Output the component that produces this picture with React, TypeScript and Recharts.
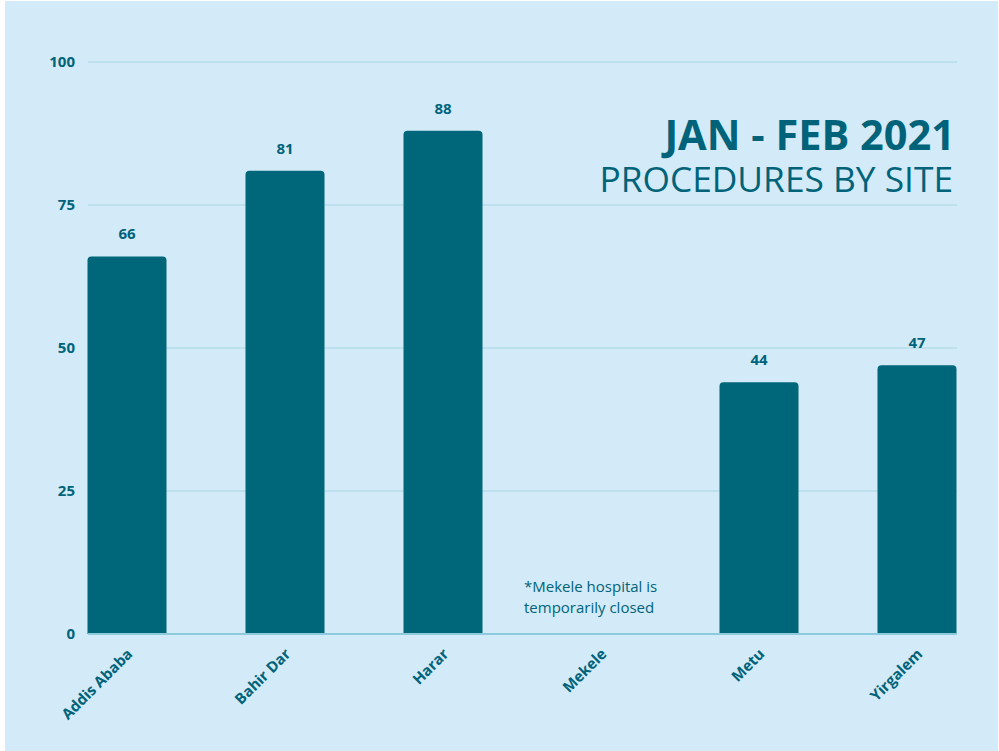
import React from 'react';
import { BarChart, Bar, XAxis, YAxis, CartesianGrid, LabelList } from 'recharts';

const SITES = ['Addis Ababa', 'Bahir Dar', 'Harar', 'Mekele', 'Metu', 'Yirgalem'];
const PROCEDURES: (number | null)[] = [66, 81, 88, null, 44, 47];
const Y_TICKS = [0, 25, 50, 75, 100];

const COLORS = {
    bg: '#d3eaf8',
    bar: '#00677a',
    text: '#00637a',
    grid: '#a8d6e6',
    axis: '#8ccbdc',
};

const FONT = '"Open Sans", sans-serif';

const data = SITES.map((site, i) => ({ site, value: PROCEDURES[i] }));

const SiteTick = (props: any) => {
    const { x, y, payload } = props;
    return (
        <text
            x={x + 7}
            y={y + 13}
            transform={`rotate(-45 ${x + 7} ${y + 13})`}
            textAnchor="end"
            fill={COLORS.text}
            fontFamily={FONT}
            fontWeight={700}
            fontSize={15}
        >
            {payload.value}
        </text>
    );
};

const App: React.FC = () => {
    return (
        <div style={{ position: 'absolute', left: 5, top: 1, width: 993, height: 750, background: COLORS.bg }}>
            <BarChart
                width={993}
                height={750}
                data={data}
                margin={{ top: 61, right: 41, left: 33, bottom: 0 }}
                barSize={79}
            >
                <CartesianGrid vertical={false} stroke={COLORS.grid} strokeWidth={1} />
                <XAxis
                    dataKey="site"
                    height={117}
                    padding={{ left: -40.5, right: -38.5 }}
                    interval={0}
                    tickLine={false}
                    axisLine={{ stroke: COLORS.axis, strokeWidth: 2 }}
                    tick={<SiteTick />}
                />
                <YAxis
                    width={50}
                    domain={[0, 100]}
                    ticks={Y_TICKS}
                    axisLine={false}
                    tickLine={false}
                    tickSize={0}
                    tickMargin={13}
                    tick={{ fill: COLORS.text, fontFamily: FONT, fontWeight: 700, fontSize: 15 }}
                />
                <Bar dataKey="value" fill={COLORS.bar} radius={[4, 4, 0, 0]} isAnimationActive={false}>
                    <LabelList
                        dataKey="value"
                        position="top"
                        offset={17}
                        fill={COLORS.text}
                        fontFamily={FONT}
                        fontWeight={700}
                        fontSize={15}
                    />
                </Bar>
            </BarChart>
            <svg width={993} height={750} style={{ position: 'absolute', left: 0, top: 0, pointerEvents: 'none' }}>
                <text x={950} y={149} textAnchor="end" fill={COLORS.text} fontFamily={FONT} fontWeight={700} fontSize={41.5}>
                    JAN - FEB 2021
                </text>
                <text x={948} y={191} textAnchor="end" fill={COLORS.text} fontFamily={FONT} fontWeight={400} fontSize={35.3}>
                    PROCEDURES BY SITE
                </text>
                <text x={519} y={591} fill={COLORS.text} fontFamily={FONT} fontSize={15}>
                    *Mekele hospital is
                </text>
                <text x={519} y={612} fill={COLORS.text} fontFamily={FONT} fontSize={15}>
                    temporarily closed
                </text>
            </svg>
        </div>
    );
};

export default App;
